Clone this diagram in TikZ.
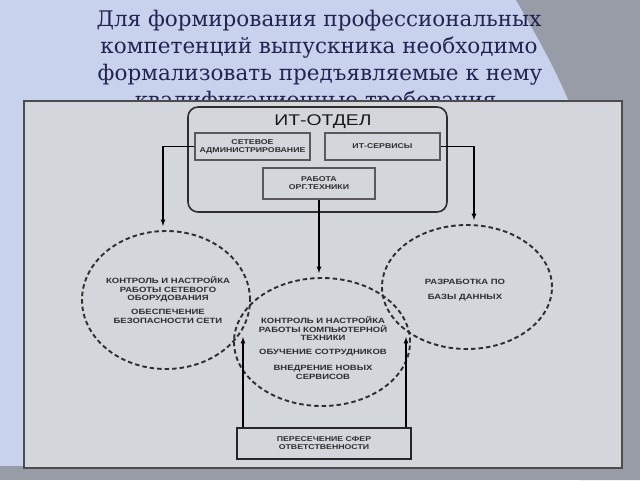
\documentclass[tikz,border=0pt]{standalone}
\usepackage{fontspec}
\setmainfont{DejaVu Serif}
\newfontfamily\diagfont[FakeStretch=1.25]{Liberation Sans}
\usetikzlibrary{positioning,shapes.geometric}
\definecolor{slidebg}{HTML}{C8D2EC}
\definecolor{slidegrey}{HTML}{979CA6}
\definecolor{panelfill}{HTML}{D3D7DC}
\definecolor{titleblue}{HTML}{232352}
\definecolor{inkgrey}{HTML}{2E2E2E}

\begin{document}
\begin{tikzpicture}[x=1pt, y=-1pt, >=latex,
deptbox/.style={rectangle, draw=inkgrey, line width=1.6pt, rounded corners=10pt, minimum width=259pt, minimum height=105pt},
unitbox/.style={rectangle, draw=black!65, line width=1.6pt, minimum height=27pt, inner sep=1pt, align=center, font=\diagfont\bfseries\fontsize{7}{8}\selectfont, text=inkgrey},
zonenode/.style={ellipse, draw=inkgrey, line width=1.9pt, dash pattern=on 4.5pt off 3pt},
zonetext/.style={align=center, font=\diagfont\bfseries\fontsize{7.6}{8.6}\selectfont, text=inkgrey},
titletext/.style={anchor=base, font=\fontsize{21.5}{27}\selectfont, text=titleblue},
arrowline/.style={->, line width=1.2pt, shorten >=4pt},
]

% Background
\fill[slidebg] (0,0) rectangle (640,480);
\fill[slidegrey] (516,0) .. controls (542,45) and (562,80) .. (580,130) -- (580,480) -- (640,480) -- (640,0) -- cycle;
\fill[slidegrey] (0,466) rectangle (640,480);

% Title
\node[titletext] (title1) at (319,26) {Для формирования профессиональных};
\node[titletext] (title2) at (319,53) {компетенций выпускника необходимо};
\node[titletext] (title3) at (320,80) {формализовать предъявляемые к нему};
\node[titletext] (title4) at (319,107) {квалификационные требования.};

% Panel
\filldraw[fill=panelfill, draw=black!70, line width=1.2pt] (24,101) rectangle (622,468);

% Nodes
\node[deptbox] (dept) at (317.5,159.5) {};
\node[font=\diagfont\fontsize{15.5}{16}\selectfont, text=black!90] (depttitle) at (323,122) {ИТ-ОТДЕЛ};
\node[unitbox, minimum width=115pt] (netadmin) at (252.5,146.5) {СЕТЕВОЕ\\АДМИНИСТРИРОВАНИЕ};
\node[unitbox, minimum width=115pt] (itserv) at (382.5,146.5) {ИТ-СЕРВИСЫ};
\node[unitbox, minimum width=112pt, minimum height=31pt] (office) at (319,183.5) {РАБОТА\\ОРГ.ТЕХНИКИ};

\node[zonenode, minimum width=168pt, minimum height=138pt] (netzone) at (166,300) {};
\node[zonenode, minimum width=170pt, minimum height=124pt] (dbzone) at (467,287) {};
\node[zonenode, minimum width=176pt, minimum height=128pt] (pczone) at (322,342) {};

\node[zonetext] (nettext) at (168,300) {КОНТРОЛЬ И НАСТРОЙКА\\РАБОТЫ СЕТЕВОГО\\ОБОРУДОВАНИЯ\\[5pt]ОБЕСПЕЧЕНИЕ\\БЕЗОПАСНОСТИ СЕТИ};
\node[zonetext] (dbtext) at (465,290) {РАЗРАБОТКА ПО\\[7pt]БАЗЫ ДАННЫХ};
\node[zonetext] (pctext) at (323,348) {КОНТРОЛЬ И НАСТРОЙКА\\РАБОТЫ КОМПЬЮТЕРНОЙ\\ТЕХНИКИ\\[5pt]ОБУЧЕНИЕ СОТРУДНИКОВ\\[8pt]ВНЕДРЕНИЕ НОВЫХ\\СЕРВИСОВ};

\node[unitbox, draw=black!85, minimum width=174pt, minimum height=31pt] (overlap) at (324,443.5) {ПЕРЕСЕЧЕНИЕ СФЕР\\ОТВЕТСТВЕННОСТИ};

\coordinate (pcleft) at (243,337);
\coordinate (pcright) at (406,337);

% Arrows
\draw[arrowline] (netadmin.west) -| ([xshift=-3pt]netzone.north);
\draw[arrowline] (itserv.east) -| ([xshift=7pt]dbzone.north);
\draw[arrowline] (office.south) -- (office.south |- pczone.north);
\draw[->, line width=1.2pt] (pcleft |- overlap.north) -- (pcleft);
\draw[->, line width=1.2pt] (pcright |- overlap.north) -- (pcright);

\end{tikzpicture}
\end{document}
